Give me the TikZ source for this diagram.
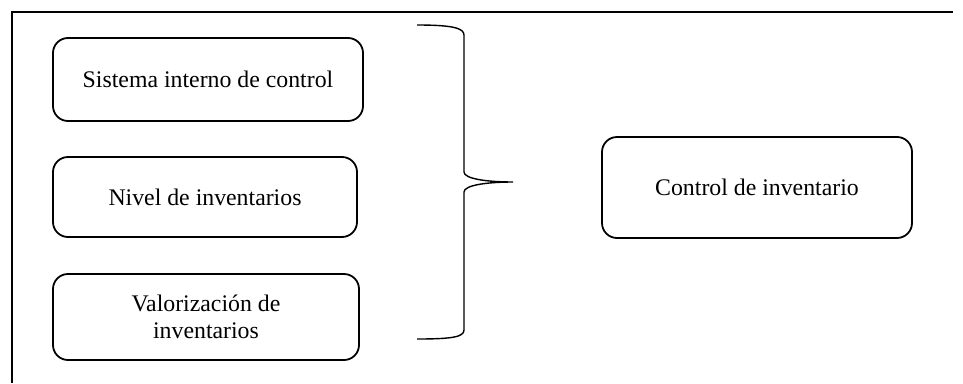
\documentclass[tikz,border=0pt]{standalone}
\usepackage{fontspec}
\setmainfont{Liberation Serif}
\begin{document}
\begin{tikzpicture}[x=1pt,y=-1pt,
  box/.style={draw, line width=1.8pt, rounded corners=15pt, align=center, inner sep=0pt,
    font=\fontsize{23.8}{27}\selectfont},
  frame/.style={line width=2pt},
  bracestyle/.style={line width=1.4pt}]
\useasboundingbox (0,0) rectangle (963,383);
\draw[frame] (12,383) -- (12,12) -- (953,12);
\node[box, minimum width=310pt, minimum height=83pt] (b1) at (208,79.5) {Sistema interno de control};
\node[box, minimum width=304pt, minimum height=80pt] (b2) at (205,197) {Nivel de inventarios};
\node[box, minimum width=306pt, minimum height=86pt] (b3) at (206,317) {Valorización de\\inventarios};
\node[box, minimum width=310pt, minimum height=101pt] (c) at (757,187.5) {Control de inventario};
\coordinate (bt) at (417,25);
\coordinate (tip) at (513,182);
\coordinate (bb) at (417,339);
\draw[bracestyle] (bt) .. controls (452,25) and (464,28) .. (464,35) -- (464,172)
  .. controls (464,179) and (488,182) .. (tip)
  .. controls (488,182) and (464,185) .. (464,192) -- (464,330)
  .. controls (464,337) and (452,339) .. (bb);
\end{tikzpicture}
\end{document}
